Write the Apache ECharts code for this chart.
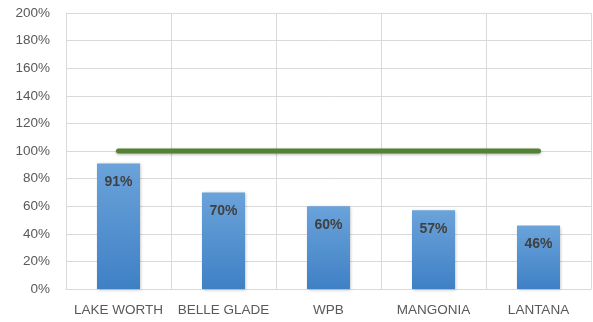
<!DOCTYPE html>
<html>
<head>
<meta charset="utf-8">
<script src="https://cdn.jsdelivr.net/npm/echarts@6/dist/echarts.min.js"></script>
<style>
  html, body { margin: 0; padding: 0; background: #ffffff; }
  #chart { width: 593px; height: 322px; }
</style>
</head>
<body>
<div id="chart"></div>
<script>
// Sites and their rates (percent)
const sites = ['LAKE WORTH', 'BELLE GLADE', 'WPB', 'MANGONIA', 'LANTANA'];
const rates = [91, 70, 60, 57, 46];
// Goal line at 100 % for every site
const goal = [100, 100, 100, 100, 100];

const chart = echarts.init(document.getElementById('chart'));
const font = "'Liberation Sans', Arial, sans-serif";

chart.setOption({
  animation: false,
  grid: { left: 66, right: 2, top: 13, bottom: 33, containLabel: false },
  xAxis: {
    type: 'category',
    data: sites,
    boundaryGap: true,
    axisLine: { show: true, lineStyle: { color: '#d9d9d9', width: 1 } },
    axisTick: { show: false, interval: 0 },
    axisLabel: { interval: 0, color: '#595959', fontFamily: font, fontSize: 13.5, margin: 14 },
    splitLine: { show: true, interval: 0, lineStyle: { color: '#d9d9d9', width: 1 } }
  },
  yAxis: {
    type: 'value',
    min: 0,
    max: 200,
    interval: 20,
    axisLine: { show: true, lineStyle: { color: '#d9d9d9', width: 1 } },
    axisTick: { show: false },
    axisLabel: {
      color: '#595959', fontFamily: font, fontSize: 13.5, margin: 16,
      formatter: v => v + '%'
    },
    splitLine: { show: true, lineStyle: { color: '#d9d9d9', width: 1 } }
  },
  series: [
    {
      type: 'bar',
      data: rates,
      barWidth: '41%',
      itemStyle: {
        color: new echarts.graphic.LinearGradient(0, 0, 0, 1, [
          { offset: 0, color: '#6ba3da' },
          { offset: 1, color: '#3f80c5' }
        ]),
        shadowColor: 'rgba(0,0,0,0.25)',
        shadowBlur: 3,
        shadowOffsetX: 1,
        shadowOffsetY: 1
      },
      label: {
        show: true,
        position: 'insideTop',
        distance: 12,
        color: '#404040',
        fontFamily: font,
        fontWeight: 'bold',
        fontSize: 14,
        formatter: p => p.value + '%'
      },
      z: 2
    },
    {
      type: 'line',
      data: goal,
      symbol: 'none',
      lineStyle: {
        color: '#548235',
        width: 5,
        cap: 'round',
        shadowColor: 'rgba(0,0,0,0.3)',
        shadowBlur: 3,
        shadowOffsetY: 1
      },
      z: 3
    }
  ]
});
</script>
</body>
</html>
